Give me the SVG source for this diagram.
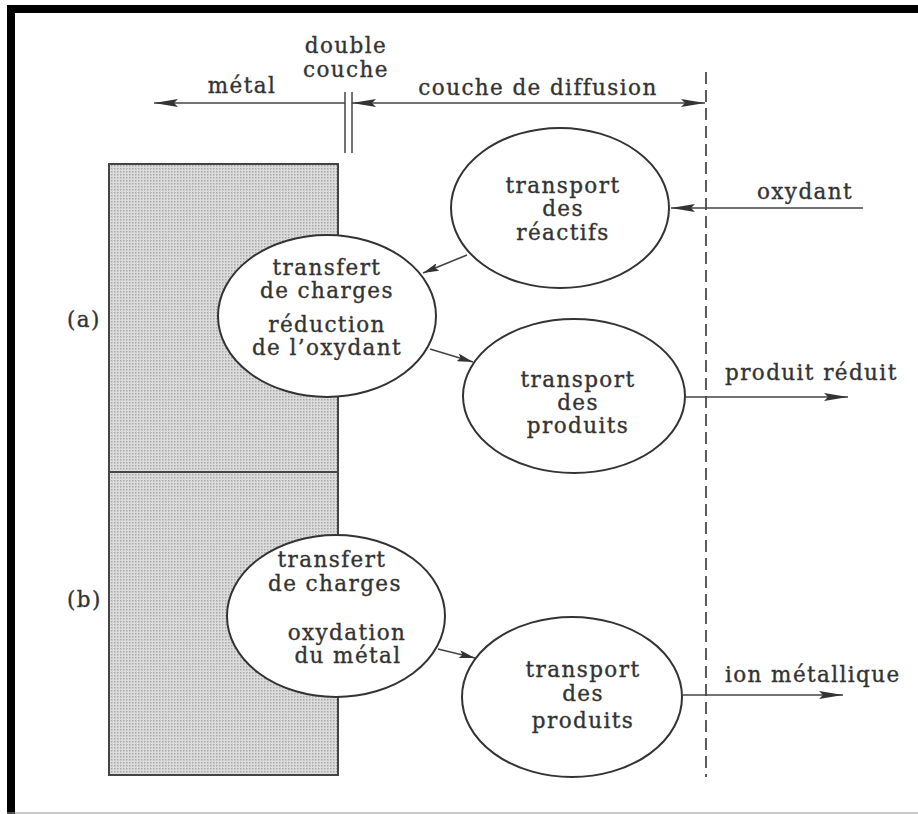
<svg xmlns="http://www.w3.org/2000/svg" width="918" height="814" viewBox="0 0 918 814">
<style>
text{font-family:"DejaVu Serif","Liberation Serif",serif;font-size:21.5px;fill:#333;stroke:#333;stroke-width:0.35;letter-spacing:1.4px}
.m{text-anchor:middle}
.node ellipse{fill:#fff;stroke:#333;stroke-width:2}
.conn{stroke:#444;stroke-width:1.6;fill:none}
</style>
<defs>
<pattern id="dots" width="3" height="3" patternUnits="userSpaceOnUse">
<rect width="3" height="3" fill="#dcdcdc"/>
<rect width="1.5" height="1.5" fill="#a8a8a8"/>
</pattern>
<marker id="ah" viewBox="0 0 24 8" refX="24" refY="4" markerWidth="24" markerHeight="8" markerUnits="userSpaceOnUse" orient="auto-start-reverse">
<path d="M0,0 L24,4 L0,8 L4,4 z" fill="#333"/>
</marker>
<marker id="as" viewBox="0 0 16 8" refX="16" refY="4" markerWidth="16" markerHeight="8" markerUnits="userSpaceOnUse" orient="auto-start-reverse">
<path d="M0,0 L16,4 L0,8 L3,4 z" fill="#333"/>
</marker>
</defs>
<rect width="918" height="814" fill="#fff"/>
<!-- frame -->
<rect x="7" y="5" width="911" height="8" fill="#000"/>
<rect x="7" y="5" width="8" height="809" fill="#000"/>
<line x1="7" y1="813" x2="918" y2="813" stroke="#999" stroke-width="1"/>

<g id="metal">
<rect x="109" y="164" width="229" height="611" fill="url(#dots)" stroke="#444" stroke-width="2"/>
<line x1="109" y1="472" x2="338" y2="472" stroke="#444" stroke-width="2"/>
</g>

<g id="labels">
<text class="m" x="346" y="53">double</text>
<text class="m" x="346" y="77">couche</text>
<text class="m" x="242" y="93">métal</text>
<text class="m" x="538" y="95">couche de diffusion</text>
<text x="757" y="199">oxydant</text>
<text x="725" y="380">produit réduit</text>
<text x="725" y="682">ion métallique</text>
<text x="67" y="327">(a)</text>
<text x="67" y="607">(b)</text>
</g>

<g id="connectors">
<line class="conn" x1="345" y1="103" x2="154" y2="103" marker-end="url(#ah)"/>
<line class="conn" x1="352" y1="103" x2="705" y2="103" marker-start="url(#ah)" marker-end="url(#ah)"/>
<line x1="345" y1="92" x2="345" y2="153" stroke="#444" stroke-width="1.5"/>
<line x1="352" y1="92" x2="352" y2="153" stroke="#444" stroke-width="1.5"/>
<line x1="706" y1="72" x2="706" y2="777" stroke="#333" stroke-width="1.6" stroke-dasharray="12,6"/>
<line class="conn" x1="863" y1="208" x2="671" y2="208" marker-end="url(#ah)"/>
<line class="conn" x1="685" y1="397" x2="848" y2="397" marker-end="url(#ah)"/>
<line class="conn" x1="683" y1="695" x2="843" y2="695" marker-end="url(#ah)"/>
<line class="conn" x1="467" y1="255" x2="423" y2="273" marker-end="url(#as)"/>
<line class="conn" x1="430" y1="349" x2="473" y2="362" marker-end="url(#as)"/>
<line class="conn" x1="438" y1="649" x2="475" y2="658" marker-end="url(#as)"/>
</g>

<g id="transport-reactifs" class="node">
<ellipse cx="560" cy="208" rx="109" ry="80"/>
<text class="m" x="563" y="193">transport</text>
<text class="m" x="563" y="216">des</text>
<text class="m" x="563" y="240">réactifs</text>
</g>

<g id="transfert-a" class="node">
<ellipse cx="327" cy="316" rx="109" ry="81"/>
<text class="m" x="327" y="275">transfert</text>
<text class="m" x="327" y="298">de charges</text>
<text class="m" x="327" y="332">réduction</text>
<text class="m" x="327" y="355">de l’oxydant</text>
</g>

<g id="transport-produits-a" class="node">
<ellipse cx="574" cy="396" rx="111" ry="77"/>
<text class="m" x="578" y="387">transport</text>
<text class="m" x="578" y="410">des</text>
<text class="m" x="578" y="433">produits</text>
</g>

<g id="transfert-b" class="node">
<ellipse cx="336" cy="616" rx="109" ry="81"/>
<text class="m" x="332" y="567">transfert</text>
<text class="m" x="335" y="591">de charges</text>
<text class="m" x="347" y="640">oxydation</text>
<text class="m" x="348" y="663">du métal</text>
</g>

<g id="transport-produits-b" class="node">
<ellipse cx="572" cy="697" rx="110" ry="80"/>
<text class="m" x="583" y="677">transport</text>
<text class="m" x="583" y="701">des</text>
<text class="m" x="583" y="728">produits</text>
</g>
</svg>
